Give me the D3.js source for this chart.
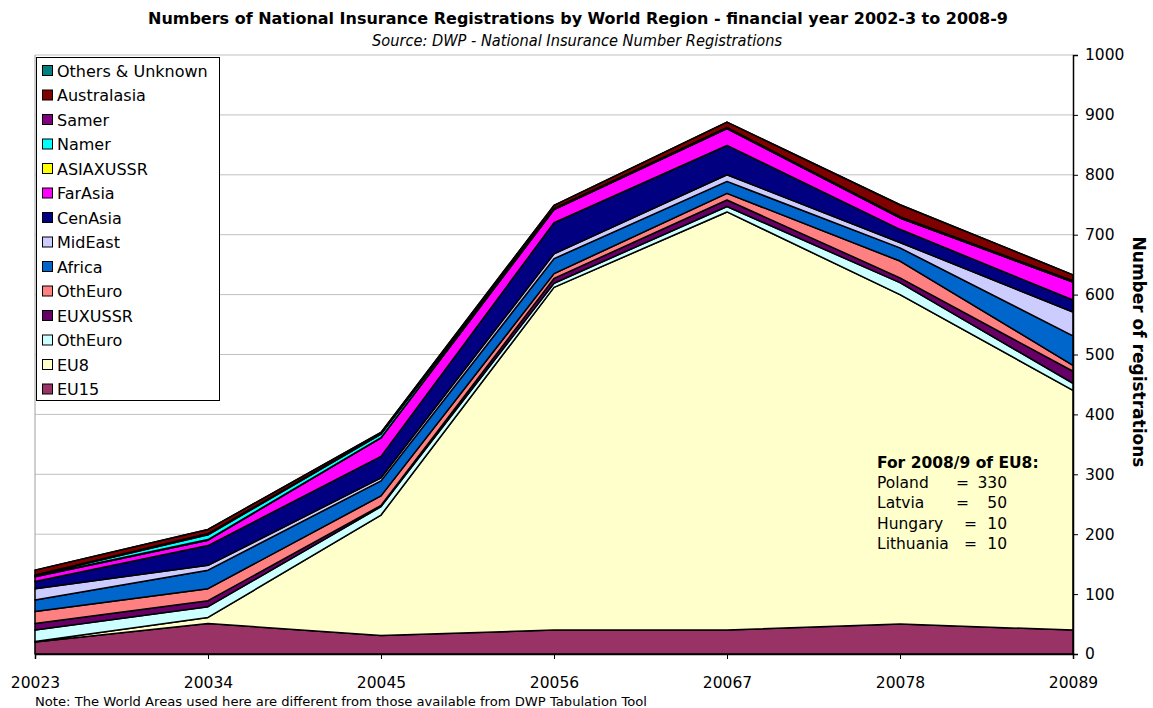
<!DOCTYPE html>
<html>
<head>
  <meta charset="utf-8">
  <script src="https://cdn.jsdelivr.net/npm/d3@7"></script>
  <style>
    body, html {
      margin: 0;
      padding: 0;
      background: white;
      overflow: hidden;
    }
    svg text {
      font-family: 'DejaVu Sans', Verdana, sans-serif;
      fill: #000;
    }
  </style>
</head>
<body>
  <svg id="chart" width="1153" height="708"></svg>

  <script>
    // financial years as they appear on the x axis
    const years = ["20023", "20034", "20045", "20056", "20067", "20078", "20089"];

    // series values, in thousands, bottom of the stack first
    const eu15 = [20, 51, 31, 40, 40, 50, 40];
    const eu8 = [1, 10, 201, 572, 698, 550, 400];
    const othEuroA = [19, 18, 14, 7, 9, 20, 12];
    const euxussr = [11, 10, 2, 8, 11, 8, 20];
    const othEuroB = [20, 20, 16, 8, 11, 28, 10];
    const africa = [19, 31, 25, 25, 20, 22, 49];
    const midEast = [19, 8, 5, 8, 11, 9, 40];
    const cenAsia = [12, 33, 36, 52, 49, 22, 20];
    const farAsia = [8, 9, 31, 22, 28, 19, 30];
    const asiaxussr = [1, 1, 0, 0, 0, 0, 0];
    const namer = [1, 8, 6, 1, 1, 1, 1];
    const samer = [1, 2, 1, 1, 1, 1, 1];
    const australasia = [8, 7, 2, 5, 9, 20, 10];
    const others = [0, 0, 0, 0, 0, 0, 0];

    const yTicks = [0, 100, 200, 300, 400, 500, 600, 700, 800, 900, 1000];

    const eu8Note = [
      { name: "Poland", eq: 956, value: "330" },
      { name: "Latvia", eq: 956, value: "50" },
      { name: "Hungary", eq: 964, value: "10" },
      { name: "Lithuania", eq: 964, value: "10" },
    ];

    const series = [
      { key: "eu15", label: "EU15", color: "#993366", values: eu15 },
      { key: "eu8", label: "EU8", color: "#FFFFCC", values: eu8 },
      { key: "othEuroA", label: "OthEuro", color: "#CCFFFF", values: othEuroA },
      { key: "euxussr", label: "EUXUSSR", color: "#660066", values: euxussr },
      { key: "othEuroB", label: "OthEuro", color: "#FF8080", values: othEuroB },
      { key: "africa", label: "Africa", color: "#0066CC", values: africa },
      { key: "midEast", label: "MidEast", color: "#CCCCFF", values: midEast },
      { key: "cenAsia", label: "CenAsia", color: "#000080", values: cenAsia },
      { key: "farAsia", label: "FarAsia", color: "#FF00FF", values: farAsia },
      { key: "asiaxussr", label: "ASIAXUSSR", color: "#FFFF00", values: asiaxussr },
      { key: "namer", label: "Namer", color: "#00FFFF", values: namer },
      { key: "samer", label: "Samer", color: "#800080", values: samer },
      { key: "australasia", label: "Australasia", color: "#800000", values: australasia },
      { key: "others", label: "Others & Unknown", color: "#008080", values: others },
    ];

    // one row per year for d3.stack
    const rows = years.map((yr, i) => {
      let row = { year: yr };
      series.forEach(s => row[s.key] = s.values[i]);
      return row;
    });

    const svg = d3.select("#chart");

    const plotLeft = 35, plotRight = 1073, plotTop = 55, plotBottom = 654;

    const x = d3.scalePoint()
      .domain(years)
      .range([plotLeft, plotRight])
      .padding(0);

    const y = d3.scaleLinear()
      .domain([0, 1000])
      .range([plotBottom, plotTop]);

    // gridlines
    svg.append("g")
      .selectAll("line")
      .data(yTicks.slice(1))
      .join("line")
      .attr("x1", plotLeft)
      .attr("x2", plotRight)
      .attr("y1", d => y(d))
      .attr("y2", d => y(d))
      .attr("stroke", "#c0c0c0")
      .attr("stroke-width", 1);

    // plot area left border
    svg.append("line")
      .attr("x1", plotLeft).attr("x2", plotLeft)
      .attr("y1", plotTop).attr("y2", plotBottom)
      .attr("stroke", "#a0a0a0");

    const stacked = d3.stack()
      .keys(series.map(s => s.key))(rows);

    const area = d3.area()
      .x(d => x(d.data.year))
      .y0(d => y(d[0]))
      .y1(d => y(d[1]));

    svg.append("g")
      .selectAll("path")
      .data(stacked)
      .join("path")
      .attr("d", area)
      .attr("fill", (d, i) => series[i].color)
      .attr("stroke", "black")
      .attr("stroke-width", 1.5)
      .attr("stroke-linejoin", "round");

    // right value axis
    const yAxis = svg.append("g")
      .attr("transform", `translate(${plotRight},0)`)
      .call(d3.axisRight(y).tickValues(yTicks).tickSize(5).tickPadding(7).tickFormat(d3.format("d")));
    yAxis.select(".domain").attr("stroke", "black").attr("stroke-width", 1.5);
    yAxis.selectAll(".tick line").attr("stroke", "black");
    yAxis.selectAll("text")
      .style("font-size", "15.5px")
      .style("font-family", "'DejaVu Sans', Verdana, sans-serif")
      .attr("fill", "#000");

    // bottom category axis
    const xAxis = svg.append("g")
      .attr("transform", `translate(0,${plotBottom})`)
      .call(d3.axisBottom(x).tickSize(5).tickPadding(18));
    xAxis.select(".domain").attr("stroke", "black").attr("stroke-width", 1.5);
    xAxis.selectAll(".tick line").attr("stroke", "black");
    xAxis.selectAll("text")
      .style("font-size", "15.5px")
      .style("font-family", "'DejaVu Sans', Verdana, sans-serif")
      .attr("fill", "#000");

    // axis title
    svg.append("text")
      .attr("transform", `translate(1133,352) rotate(90)`)
      .attr("text-anchor", "middle")
      .style("font-size", "17px")
      .style("font-weight", "bold")
      .text("Number of registrations");

    // titles
    svg.append("text")
      .attr("x", 578)
      .attr("y", 24)
      .attr("text-anchor", "middle")
      .attr("textLength", 860)
      .attr("lengthAdjust", "spacingAndGlyphs")
      .style("font-family", "'DejaVu Sans Condensed', 'DejaVu Sans', sans-serif")
      .style("font-size", "16.5px")
      .style("font-weight", "bold")
      .text("Numbers of National Insurance Registrations by World Region - financial year 2002-3 to 2008-9");

    svg.append("text")
      .attr("x", 577)
      .attr("y", 46)
      .attr("text-anchor", "middle")
      .attr("textLength", 410)
      .attr("lengthAdjust", "spacingAndGlyphs")
      .style("font-family", "'DejaVu Sans Condensed', 'DejaVu Sans', sans-serif")
      .style("font-size", "15px")
      .style("font-style", "italic")
      .text("Source: DWP - National Insurance Number Registrations");

    // footnote
    svg.append("text")
      .attr("x", 35)
      .attr("y", 706)
      .attr("textLength", 612)
      .attr("lengthAdjust", "spacingAndGlyphs")
      .style("font-size", "12.5px")
      .text("Note: The World Areas used here are different from those available from DWP Tabulation Tool");

    // legend
    const legend = svg.append("g");
    legend.append("rect")
      .attr("x", 36.5)
      .attr("y", 57.5)
      .attr("width", 183)
      .attr("height", 343)
      .attr("fill", "white")
      .attr("stroke", "black");

    const legendItems = legend.selectAll(".item")
      .data(series.slice().reverse())
      .join("g")
      .attr("class", "item")
      .attr("transform", (d, i) => `translate(0,${71 + i * 24.5})`);

    legendItems.append("rect")
      .attr("x", 42.5)
      .attr("y", -5.5)
      .attr("width", 10)
      .attr("height", 10)
      .attr("fill", d => d.color)
      .attr("stroke", "black");

    legendItems.append("text")
      .attr("x", 57)
      .attr("y", 5.5)
      .style("font-size", "16px")
      .text(d => d.label);

    // EU8 breakdown note
    const note = svg.append("g");
    note.append("text")
      .attr("x", 877)
      .attr("y", 468)
      .style("font-size", "15.5px")
      .style("font-weight", "bold")
      .text("For 2008/9 of EU8:");

    const noteRows = note.selectAll(".row")
      .data(eu8Note)
      .join("g")
      .attr("class", "row")
      .attr("transform", (d, i) => `translate(0,${488 + i * 20.3})`);

    noteRows.append("text")
      .attr("x", 877)
      .style("font-size", "15.5px")
      .text(d => d.name);
    noteRows.append("text")
      .attr("x", d => d.eq)
      .style("font-size", "15.5px")
      .text("=");
    noteRows.append("text")
      .attr("x", 1007)
      .attr("text-anchor", "end")
      .style("font-size", "15.5px")
      .text(d => d.value);
  </script>
</body>
</html>
